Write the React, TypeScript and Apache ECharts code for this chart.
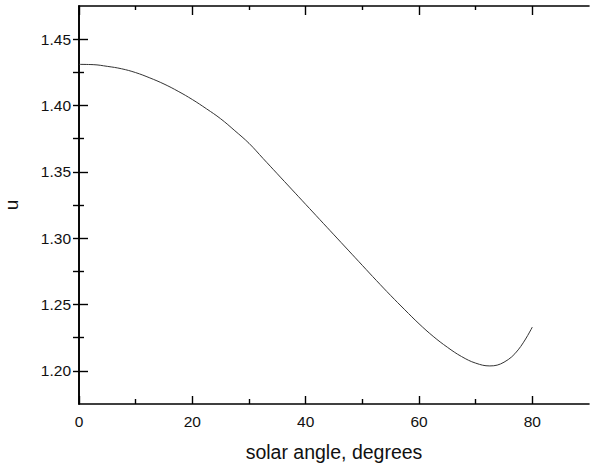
import React, { useEffect, useRef } from "react";
import * as echarts from "echarts";

const angles = [0, 2.5, 5, 7.5, 10, 12.5, 15, 17.5, 20, 22.5, 25, 27.5, 30, 32.5, 35, 37.5, 40, 42.5, 45, 47.5, 50, 52.5, 55, 57.5, 60, 62.5, 65, 67.5, 70, 72.5, 75, 77.5, 80];
const uValues = [1.431, 1.4308, 1.4295, 1.4277, 1.4248, 1.4208, 1.4162, 1.4107, 1.4045, 1.3975, 1.39, 1.381, 1.3715, 1.36, 1.3485, 1.337, 1.3255, 1.314, 1.3025, 1.291, 1.2795, 1.268, 1.2568, 1.246, 1.2355, 1.226, 1.2178, 1.2108, 1.2058, 1.2037, 1.2065, 1.2158, 1.233];

const xMajorTicks = [0, 20, 40, 60, 80];
const xMinorTicks = [10, 30, 50, 70];
const yMajorTicks = [1.2, 1.25, 1.3, 1.35, 1.4, 1.45];
const yMinorTicks = [1.225, 1.275, 1.325, 1.375, 1.425];
const yAllTicks = [1.2, 1.225, 1.25, 1.275, 1.3, 1.325, 1.35, 1.375, 1.4, 1.425, 1.45];

const X_MIN = 0, X_MAX = 90, Y_MIN = 1.175, Y_MAX = 1.475;
const FONT = "'Liberation Sans', Arial, Helvetica, sans-serif";
const LINE = { show: true, lineStyle: { color: "#000", width: 1.6 } };
const NOLINE = { show: false };

function tickAxis(position: string, ticks: number[], length: number, showLine: boolean, min: number, max: number) {
  return {
    type: "value",
    position,
    min,
    max,
    axisLine: showLine ? LINE : NOLINE,
    axisTick: { show: true, inside: true, length, customValues: ticks, lineStyle: { color: "#000", width: 1.4 } },
    axisLabel: { show: false },
    splitLine: { show: false },
  };
}

export default function App() {
  const ref = useRef<HTMLDivElement>(null);
  useEffect(() => {
    if (!ref.current) return;
    const chart = echarts.init(ref.current, null, { renderer: "svg" });
    chart.setOption({
      animation: false,
      backgroundColor: "#fff",
      grid: { left: 79, right: 2, top: 6, bottom: 59, containLabel: false, outerBoundsMode: "none" },
      xAxis: [
        {
          type: "value",
          position: "bottom",
          min: X_MIN,
          max: X_MAX,
          name: "solar angle, degrees",
          nameLocation: "middle",
          nameGap: 38,
          nameTextStyle: { fontFamily: FONT, fontSize: 19.5, color: "#111" },
          axisLine: LINE,
          axisTick: { show: true, inside: true, length: 8, customValues: xMajorTicks, lineStyle: { color: "#000", width: 1.4 } },
          axisLabel: { show: true, customValues: xMajorTicks, margin: 9, fontFamily: FONT, fontSize: 15.5, color: "#111" },
          splitLine: { show: false },
        },
        tickAxis("bottom", xMinorTicks, 5, false, X_MIN, X_MAX),
        tickAxis("top", xMajorTicks, 9, true, X_MIN, X_MAX),
        tickAxis("top", xMinorTicks, 4, false, X_MIN, X_MAX),
      ],
      yAxis: [
        {
          type: "value",
          position: "left",
          min: Y_MIN,
          max: Y_MAX,
          name: "u",
          nameLocation: "middle",
          nameGap: 58,
          nameTextStyle: { fontFamily: FONT, fontSize: 19, color: "#111" },
          axisLine: LINE,
          axisTick: { show: true, inside: true, length: 9, customValues: yMajorTicks, lineStyle: { color: "#000", width: 1.4 } },
          axisLabel: {
            show: true,
            customValues: yMajorTicks,
            margin: 8,
            fontFamily: FONT,
            fontSize: 15.5,
            color: "#111",
            formatter: (v: number) => v.toFixed(2),
          },
          splitLine: { show: false },
        },
        tickAxis("left", yMinorTicks, 5, false, Y_MIN, Y_MAX),
        tickAxis("right", yAllTicks, 6, true, Y_MIN, Y_MAX),
      ],
      series: [
        {
          type: "line",
          xAxisIndex: 0,
          yAxisIndex: 0,
          data: angles.map((a, i) => [a, uValues[i]]),
          smooth: 0.4,
          showSymbol: false,
          symbol: "none",
          lineStyle: { color: "#333", width: 1 },
        },
      ],
    });
    return () => chart.dispose();
  }, []);
  return <div ref={ref} style={{ position: "absolute", left: 0, top: 0, width: 591, height: 463 }} />;
}
